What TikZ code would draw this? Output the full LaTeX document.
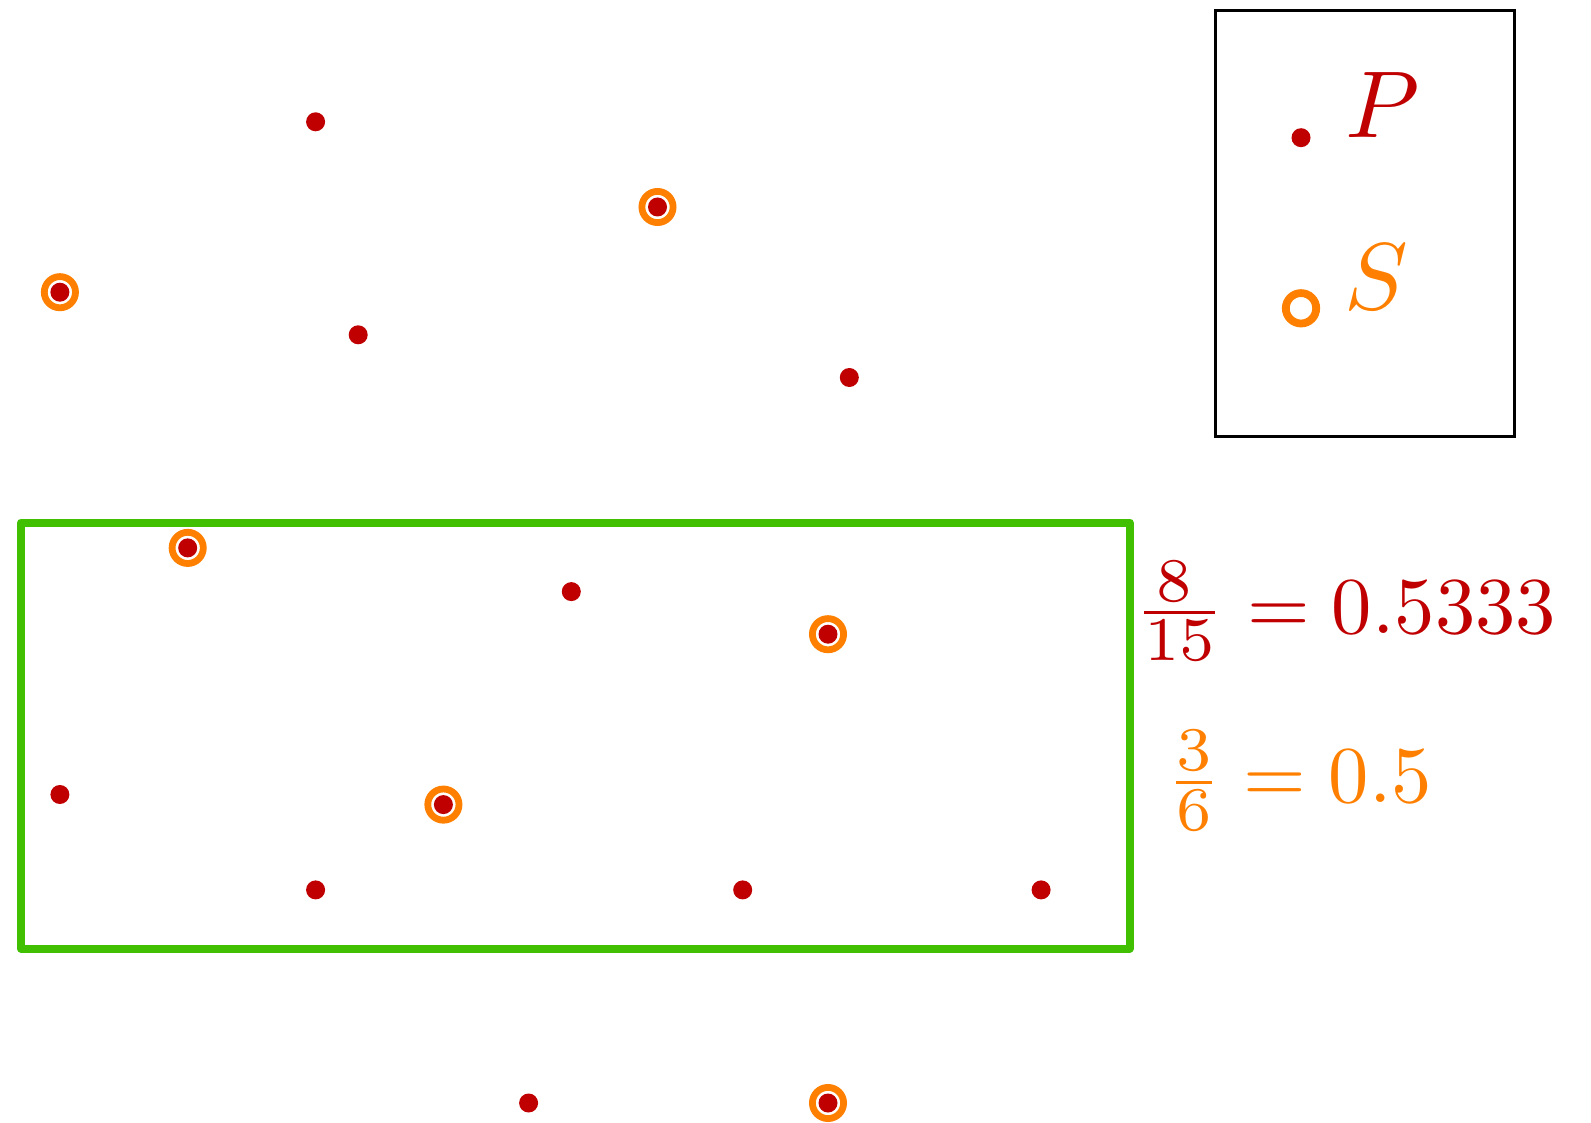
\documentclass[tikz,border=0pt]{standalone}
\usepackage{xcolor}
\usepackage{graphicx}
\definecolor{ptred}{RGB}{192,0,0}
\definecolor{ptorange}{RGB}{255,128,0}
\definecolor{winGreen}{RGB}{64,192,0}
% numerator / denominator of the ratios, a little larger than plain script size
\newcommand{\ratiopart}[1]{\scalebox{1.1}{$\scriptstyle #1$}}
\begin{document}
\begin{tikzpicture}[x=0.5pt,y=-0.5pt,
  pdot/.style={circle,fill=ptred,inner sep=0pt,minimum size=9.5pt},
  sring/.style={circle,draw=ptorange,line width=3.4pt,inner sep=0pt,minimum size=15.6pt},
  eqn/.style={inner sep=0pt,anchor=base west,scale=4.03},
  legtext/.style={inner sep=0pt,anchor=base west,scale=4.75}]
\useasboundingbox (0,0) rectangle (1591,1123);

% sample window
\draw[winGreen,line width=4pt,line join=round] (21,522.5) rectangle (1129.5,948.5);

% legend frame
\draw[black,line width=1.35pt] (1215.5,10.5) rectangle (1514.5,436.5);

% points of P that are also in S
\foreach \name/\px/\py in {a/657.5/207, b/59.9/292.2, c/187.7/547.9, d/828/634.2, e/443.4/804.6, f/828/1103}{
  \node[sring] (s\name) at (\px,\py) {};
}
% all points of P
\foreach \name/\px/\py in {1/315.6/121.8, 2/358.2/334.8, 3/849.3/377.5, 4/571.3/591.6,
  5/59.9/794.5, 6/315.6/889.9, 7/742.7/889.9, 8/1041.1/889.9, 9/528.6/1103,
  a/657.5/207, b/59.9/292.2, c/187.7/547.9, d/828/634.2, e/443.4/804.6, f/828/1103}{
  \node[pdot] (p\name) at (\px,\py) {};
}

% legend entries
\node[pdot] (legP) at (1301,137.7) {};
\node[legtext,text=ptred] (legPtext) at (1344,138) {$P$};
\node[sring,line width=3.9pt,minimum size=15.2pt] (legS) at (1301,308.3) {};
\node[legtext,text=ptorange] (legStext) at (1343,310) {$S$};

% ratios
\node[eqn,text=ptred] (ratioP) at (1133,633) {$\frac{\ratiopart{8}}{\ratiopart{15}} = 0.5333$};
\node[eqn,text=ptorange] (ratioS) at (1165,802.5) {$\frac{\ratiopart{3}}{\ratiopart{6}} = 0.5$};
\end{tikzpicture}
\end{document}
